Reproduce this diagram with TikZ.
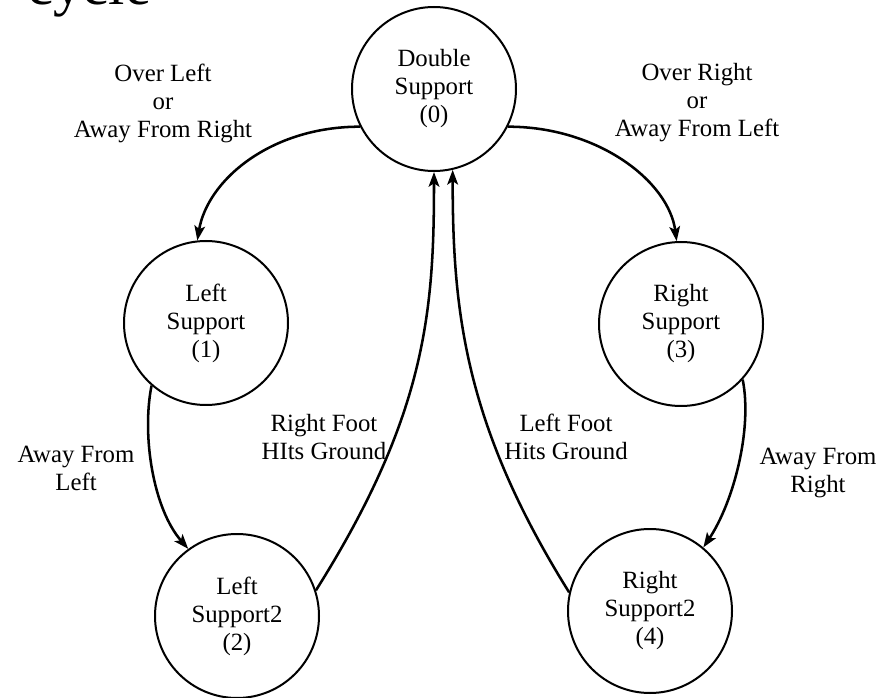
\documentclass[tikz,border=0pt]{standalone}
\usepackage{fontspec}
\setmainfont{Liberation Serif}
\usetikzlibrary{arrows.meta}

\begin{document}
\begin{tikzpicture}[x=0.75pt,y=0.75pt,yscale=-1,xscale=1,
  state/.style={draw, circle, line width=1.5pt, minimum size=123pt, inner sep=0pt, align=center, font=\fontsize{18.6}{21}\selectfont},
  lbl/.style={align=center, inner sep=0pt, font=\fontsize{18.6}{21}\selectfont},
  trans/.style={line width=1.9pt, -{Stealth[length=11pt,width=8pt,inset=2.5pt]}}]
%set diagram left start at 0, and has height of 698
\useasboundingbox (0,0) rectangle (882,698);
\clip (0,0) rectangle (882,698);

% Text Node
\node [anchor=base west, inner sep=0pt, font=\fontsize{44}{44}\selectfont] (title) at (27,5) {cycle};

%Shape: Circle
\node [state] (ds) at (434,89) {Double\\Support\\(0)};
%Shape: Circle
\node [state] (ls) at (206,323) {Left\\Support\\(1)};
%Shape: Circle
\node [state] (rs) at (681,324) {Right\\Support\\(3)};
%Shape: Circle
\node [state] (ls2) at (237,616) {Left\\Support2\\(2)};
%Shape: Circle
\node [state] (rs2) at (650,611) {Right\\Support2\\(4)};

%Curve Lines
\draw [trans] (ds.207) .. controls +(-90,0) and +(10,-60) .. (ls.96);
%Curve Lines
\draw [trans] (ds.-27) .. controls +(90,0) and +(-8,-60) .. (rs.93);
%Curve Lines
\draw [trans] (ls.229) .. controls +(-10,50) and +(-35,-40) .. (ls2.126);
%Curve Lines
\draw [trans] (rs.-42) .. controls +(10,50) and +(30,-45) .. (rs2.50);
%Curve Lines
\draw [trans] (ls2.18) .. controls +(110,-175) and +(0,140) .. (ds.270);
%Curve Lines
\draw [trans] (rs2.167) .. controls +(-105,-168) and +(0,140) .. (ds.283);

% Text Node
\node [lbl] (ol) at (163,103) {Over Left\\or\\Away From Right};
% Text Node
\node [lbl] (or) at (697,103) {Over Right\\or\\Away From Left};
% Text Node
\node [lbl] (afl) at (76,468) {Away From\\Left};
% Text Node
\node [lbl] (rfh) at (324,437) {Right Foot\\HIts Ground};
% Text Node
\node [lbl] (lfh) at (566,437) {Left Foot\\Hits Ground};
% Text Node
\node [lbl] (afr) at (818,473) {Away From\\Right};

\end{tikzpicture}
\end{document}
